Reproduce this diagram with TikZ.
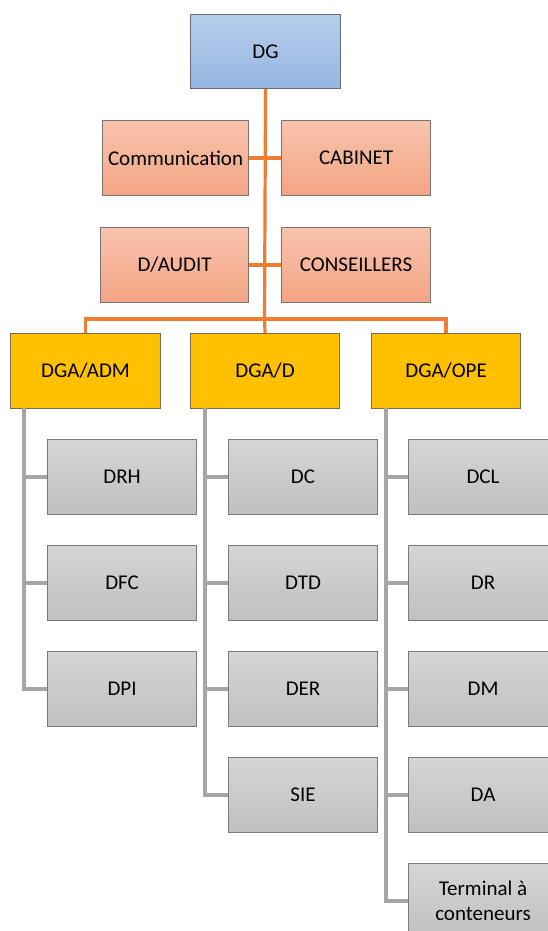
\documentclass[tikz,border=0pt]{standalone}
\usepackage{fontspec}
\setmainfont{Carlito}
\begin{document}
\begin{tikzpicture}[x=1pt,y=-1pt,
  box/.style={rectangle, anchor=north west, minimum width=149pt, minimum height=75pt,
    inner sep=2pt, align=center, line width=1.1pt,
    font=\fontsize{21}{25}\selectfont, text=black},
  topbox/.style={box, draw=dgedge, top color=dgtop, bottom color=dgbot},
  staffbox/.style={box, draw=staffedge, top color=stafftop, bottom color=staffbot},
  deputybox/.style={box, draw=deputyedge, fill=deputy},
  unitbox/.style={box, draw=unitedge, top color=unittop, bottom color=unitbot},
  mainlink/.style={draw=linkorange, line width=3.2pt},
  sublink/.style={draw=linkgray, line width=3.2pt}]
  \definecolor{dgtop}{RGB}{184,206,236}
  \definecolor{dgbot}{RGB}{148,182,226}
  \definecolor{dgedge}{RGB}{100,110,125}
  \definecolor{stafftop}{RGB}{248,195,172}
  \definecolor{staffbot}{RGB}{243,165,132}
  \definecolor{staffedge}{RGB}{125,115,110}
  \definecolor{deputy}{RGB}{255,192,0}
  \definecolor{deputyedge}{RGB}{120,108,82}
  \definecolor{unittop}{RGB}{213,213,213}
  \definecolor{unitbot}{RGB}{192,192,192}
  \definecolor{unitedge}{RGB}{122,122,122}
  \definecolor{linkorange}{RGB}{237,125,49}
  \definecolor{linkgray}{RGB}{166,166,166}

  \useasboundingbox (0,0) rectangle (547,931);

  % junction points of the connector trees
  \coordinate (bar) at (264.5,319);
  \coordinate (admSpine) at (24,408);
  \coordinate (dSpine) at (205,408);
  \coordinate (opeSpine) at (386,408);

  % director general
  \node[topbox, minimum width=150pt, minimum height=74pt] (dg) at (190,14) {DG};

  % staff units
  \node[staffbox, minimum width=146pt] (comm) at (102,120) {Communication};
  \node[staffbox] (cab) at (281,120) {CABINET};
  \node[staffbox, minimum width=148pt] (audit) at (100,227) {D/AUDIT};
  \node[staffbox] (cons) at (281,227) {CONSEILLERS};

  % deputy directors
  \node[deputybox, minimum width=150pt] (adm) at (10,333) {DGA/ADM};
  \node[deputybox] (dgad) at (190,333) {DGA/D};
  \node[deputybox] (ope) at (371,333) {DGA/OPE};

  % administration units
  \node[unitbox] (drh) at (47,439) {DRH};
  \node[unitbox] (dfc) at (47,545) {DFC};
  \node[unitbox] (dpi) at (47,651) {DPI};

  % units under DGA/D
  \node[unitbox] (dc) at (228,439) {DC};
  \node[unitbox] (dtd) at (228,545) {DTD};
  \node[unitbox] (der) at (228,651) {DER};
  \node[unitbox] (sie) at (228,757) {SIE};

  % operations units
  \node[unitbox] (dcl) at (408,439) {DCL};
  \node[unitbox] (dr) at (408,545) {DR};
  \node[unitbox] (dm) at (408,651) {DM};
  \node[unitbox] (da) at (408,757) {DA};
  \node[unitbox] (term) at (408,863) {Terminal à\\conteneurs};

  % orange hierarchy lines
  \path[mainlink] (dg.south) -- (bar);
  \path[mainlink] (comm.east) -- (cab.west);
  \path[mainlink] (audit.east) -- (cons.west);
  \path[mainlink] (adm.north) |- (bar) -| (ope.north);
  \path[mainlink] (bar) -- (dgad.north);

  % gray unit lines
  \path[sublink] (admSpine) |- (dpi.west);
  \path[sublink] (drh.west) -- (drh.west -| admSpine);
  \path[sublink] (dfc.west) -- (dfc.west -| admSpine);

  \path[sublink] (dSpine) |- (sie.west);
  \path[sublink] (dc.west) -- (dc.west -| dSpine);
  \path[sublink] (dtd.west) -- (dtd.west -| dSpine);
  \path[sublink] (der.west) -- (der.west -| dSpine);

  \path[sublink] (opeSpine) |- (term.west);
  \path[sublink] (dcl.west) -- (dcl.west -| opeSpine);
  \path[sublink] (dr.west) -- (dr.west -| opeSpine);
  \path[sublink] (dm.west) -- (dm.west -| opeSpine);
  \path[sublink] (da.west) -- (da.west -| opeSpine);
\end{tikzpicture}
\end{document}
